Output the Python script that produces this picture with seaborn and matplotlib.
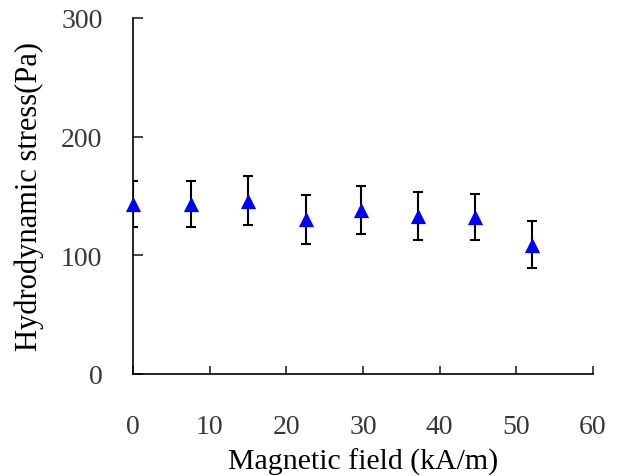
import seaborn as sns
import matplotlib.pyplot as plt
import pandas as pd

# values
field = [0, 7.6, 15.0, 22.5, 29.7, 37.2, 44.6, 52.1]
stress = [143.5, 143.5, 146, 130.3, 138, 133.3, 132.6, 109.1]
err = [19.5, 19.5, 20.5, 20.5, 20.3, 20.2, 19.5, 19.5]
xticks = [0, 10, 20, 30, 40, 50, 60]
yticks = [0, 100, 200, 300]

df = pd.DataFrame({'field': field, 'stress': stress, 'err': err})

sns.set_style('ticks')
plt.rcParams['font.family'] = ['Liberation Serif', 'DejaVu Serif']

fig = plt.figure(figsize=(6.4, 4.77), dpi=100)
ax = fig.add_axes([133 / 640, 1 - 375 / 477, 460 / 640, 356 / 477])

ax.errorbar(df['field'], df['stress'], yerr=df['err'], fmt='none',
            ecolor='black', elinewidth=1.5, capsize=3.5, capthick=1.5, zorder=2)
sns.scatterplot(data=df, x='field', y='stress', marker='^', color='#0000ff',
                s=120, edgecolor='#0000ff', linewidth=0, ax=ax, zorder=3, clip_on=False)

ax.set_xlim(0, 60)
ax.set_ylim(0, 300)
ax.set_xticks(xticks)
ax.set_yticks(yticks)
sns.despine(ax=ax)
for s in ['left', 'bottom']:
    ax.spines[s].set_linewidth(1.2)
    ax.spines[s].set_color('black')
ax.tick_params(axis='x', direction='in', length=6, width=1.2, pad=29,
               labelsize=20, labelcolor='#383838')
ax.tick_params(axis='y', direction='in', length=7, width=1.2, pad=22,
               labelsize=20, labelcolor='#383838')

ax.set_xlabel('Magnetic field (kA/m)', fontsize=21.5, labelpad=6, color='black')
ax.set_ylabel('Hydrodynamic stress(Pa)', fontsize=22, labelpad=12, color='black')

fig.savefig('out.png', dpi=100)
